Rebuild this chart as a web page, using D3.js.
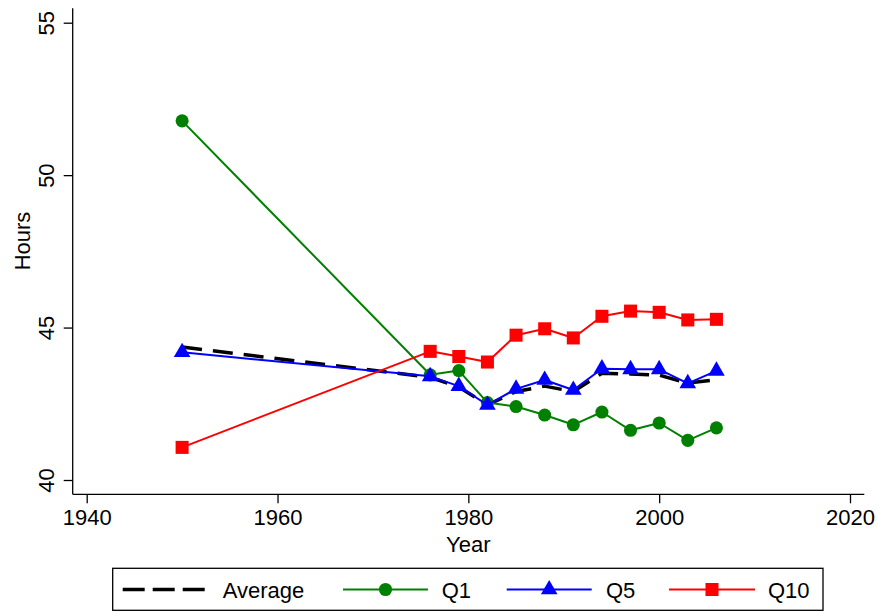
<!DOCTYPE html>
<html>
<head>
<meta charset="utf-8">
<script src="https://cdn.jsdelivr.net/npm/d3@7"></script>
<style>
  html, body { margin: 0; padding: 0; background: #fff; }
  svg { display: block; }
  text { font-family: "Liberation Sans", Arial, Helvetica, sans-serif; fill: #000; }
</style>
</head>
<body>
<svg id="chart" width="878" height="612"></svg>
<script>
// ---- data ----
const years = [1950, 1976, 1979, 1982, 1985, 1988, 1991, 1994, 1997, 2000, 2003, 2006];
const average = [44.36, 43.37, 43.05, 42.46, 42.90, 43.08, 42.90, 43.50, 43.48, 43.44, 43.18, 43.29];
const q1  = [51.78, 43.45, 43.59, 42.54, 42.41, 42.13, 41.81, 42.23, 41.63, 41.87, 41.30, 41.71];
const q5  = [44.19, 43.40, 43.08, 42.46, 42.99, 43.28, 42.95, 43.65, 43.63, 43.63, 43.17, 43.58];
const q10 = [41.07, 44.22, 44.05, 43.87, 44.75, 44.96, 44.66, 45.37, 45.54, 45.50, 45.25, 45.27];
const xTicks = [1940, 1960, 1980, 2000, 2020];
const yTicks = [40, 45, 50, 55];
const seriesNames = ["Average", "Q1", "Q5", "Q10"];

// ---- layout ----
const svg = d3.select("#chart");
const x = d3.scaleLinear().domain([1940, 2020]).range([86.7, 850]);
const y = d3.scaleLinear().domain([40, 55]).range([480, 22.7]);
const axisLeftX = 72.7, axisBottomY = 494.3;
const fontSize = 22;

// axes lines
svg.append("line").attr("x1", axisLeftX).attr("x2", axisLeftX)
  .attr("y1", 8.3).attr("y2", axisBottomY).attr("stroke", "#000").attr("stroke-width", 1.3);
svg.append("line").attr("x1", axisLeftX).attr("x2", 864.3)
  .attr("y1", axisBottomY).attr("y2", axisBottomY).attr("stroke", "#000").attr("stroke-width", 1.3);

// x axis via d3.axisBottom
const xAxis = d3.axisBottom(x).tickValues(xTicks).tickFormat(d3.format("d")).tickSize(9).tickPadding(6);
const gx = svg.append("g").attr("transform", `translate(0,${axisBottomY})`).call(xAxis);
gx.select(".domain").remove();
gx.selectAll(".tick line").attr("stroke", "#000").attr("stroke-width", 1.3);
gx.selectAll(".tick text").attr("font-size", fontSize).attr("font-family", "Liberation Sans, Arial, sans-serif").attr("fill", "#000");

// y axis via d3.axisLeft, labels rotated
const yAxis = d3.axisLeft(y).tickValues(yTicks).tickFormat(d3.format("d")).tickSize(9);
const gy = svg.append("g").attr("transform", `translate(${axisLeftX},0)`).call(yAxis);
gy.select(".domain").remove();
gy.selectAll(".tick line").attr("stroke", "#000").attr("stroke-width", 1.3);
gy.selectAll(".tick text")
  .attr("font-size", fontSize).attr("font-family", "Liberation Sans, Arial, sans-serif").attr("fill", "#000")
  .attr("x", null).attr("dy", null)
  .attr("text-anchor", "middle")
  .attr("transform", "translate(-19,0) rotate(-90)");

// axis titles
svg.append("text").attr("x", (86.7 + 850) / 2).attr("y", 552)
  .attr("text-anchor", "middle").attr("font-size", fontSize).text("Year");
svg.append("text").attr("transform", "translate(30,241) rotate(-90)")
  .attr("text-anchor", "middle").attr("font-size", fontSize).text("Hours");

// ---- series ----
const styles = [
  { name: seriesNames[0], values: average, color: "#000000", width: 3.5, dash: "20,11", symbol: null },
  { name: seriesNames[1], values: q1, color: "#008000", width: 2, dash: null, symbol: d3.symbolCircle, size: 135 },
  { name: seriesNames[2], values: q5, color: "#0000ff", width: 2, dash: null, symbol: d3.symbolTriangle, size: 120 },
  { name: seriesNames[3], values: q10, color: "#ff0000", width: 2, dash: null, symbol: d3.symbolSquare, size: 170 }
];

const line = d3.line().x(d => x(d[0])).y(d => y(d[1]));

styles.forEach(s => {
  const pts = years.map((yr, i) => [yr, s.values[i]]);
  const g = svg.append("g");
  g.append("path").datum(pts).attr("d", line)
    .attr("fill", "none").attr("stroke", s.color).attr("stroke-width", s.width)
    .attr("stroke-dasharray", s.dash).attr("stroke-linejoin", "round");
  if (s.symbol) {
    const sym = d3.symbol().type(s.symbol).size(s.size);
    g.selectAll("path.m").data(pts).enter().append("path").attr("class", "m")
      .attr("d", sym).attr("transform", d => `translate(${x(d[0])},${y(d[1])})`)
      .attr("fill", s.color);
  }
});

// ---- legend ----
const legY = 589.5;
svg.append("rect").attr("x", 112.7).attr("y", 568.3).attr("width", 823 - 112.7).attr("height", 42)
  .attr("fill", "#fff").attr("stroke", "#000").attr("stroke-width", 1.3);
const legItems = [
  { x1: 122.7, x2: 208, tx: 222.7 },
  { x1: 343, x2: 428, tx: 441.7 },
  { x1: 506.7, x2: 591.7, tx: 606 },
  { x1: 669, x2: 755, tx: 768 }
];
styles.forEach((s, i) => {
  const li = legItems[i];
  svg.append("line").attr("x1", li.x1).attr("x2", li.x2).attr("y1", legY).attr("y2", legY)
    .attr("stroke", s.color).attr("stroke-width", s.width).attr("stroke-dasharray", s.dash ? "22,8" : null);
  if (s.symbol) {
    svg.append("path").attr("d", d3.symbol().type(s.symbol).size(s.size)())
      .attr("transform", `translate(${(li.x1 + li.x2) / 2},${legY})`).attr("fill", s.color);
  }
  svg.append("text").attr("x", li.tx).attr("y", legY + 8).attr("font-size", fontSize).text(s.name);
});
</script>
</body>
</html>
